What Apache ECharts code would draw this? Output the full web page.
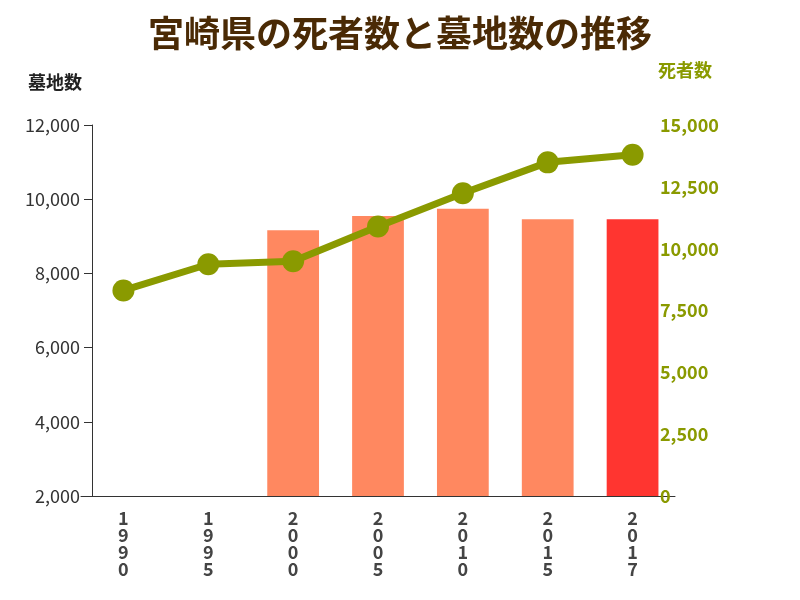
<!DOCTYPE html>
<html><head><meta charset="utf-8">
<script src="https://cdn.jsdelivr.net/npm/echarts@6/dist/echarts.min.js"></script>
<style>body{margin:0}#c{width:800px;height:600px}</style></head>
<body><div id="c"></div>
<script>
var years = ['1990','1995','2000','2005','2010','2015','2017'];
var graves = [null,null,9160,9550,9740,9460,9460];
var deaths = [8310,9370,9490,10900,12240,13490,13800];
var barColors = ['#ff8860','#ff8860','#ff8860','#ff8860','#ff8860','#ff8860','#ff3530'];

var font = '"Noto Sans CJK JP", sans-serif';
var chart = echarts.init(document.getElementById('c'));
chart.setOption({
  animation:false,
  textStyle:{fontFamily:font},
  title:{text:'宮崎県の死者数と墓地数の推移',left:'center',top:10,
    textStyle:{fontSize:36,fontWeight:'bold',color:'#4a2a05',fontFamily:font}},
  grid:{left:81,right:125,top:125,bottom:104},
  xAxis:{type:'category',data:years,
    axisLine:{lineStyle:{color:'#333'}},axisTick:{show:false},
    axisLabel:{fontSize:18,fontWeight:'bold',color:'#444',lineHeight:17,margin:14,
      formatter:function(v){return v.split('').join('\n');}}},
  yAxis:[
    {type:'value',min:2000,max:12000,interval:2000,name:'墓地数',offset:-11,
     nameLocation:'end',nameGap:34,nameTextStyle:{fontSize:18,fontWeight:'bold',color:'#222',align:'right',padding:[0,10,0,0]},
     axisLine:{show:true,lineStyle:{color:'#333'}},axisTick:{show:true,length:8,lineStyle:{color:'#333'}},
     splitLine:{show:false},
     axisLabel:{fontSize:18,color:'#333',margin:12,formatter:function(v){return v.toLocaleString('en-US');}}},
    {type:'value',min:0,max:15000,interval:2500,name:'死者数',offset:-27,
     nameLocation:'end',nameGap:46,nameTextStyle:{fontSize:18,fontWeight:'bold',color:'#8a9a00',align:'left',padding:[0,0,0,10]},
     axisLine:{show:false},axisTick:{show:false},splitLine:{show:false},
     axisLabel:{fontSize:18,fontWeight:'bold',color:'#8a9a00',margin:12,formatter:function(v){return v.toLocaleString('en-US');}}}
  ],
  series:[
    {type:'bar',yAxisIndex:0,barWidth:'61%',
     data:graves.map(function(v,i){return {value:v,itemStyle:{color:barColors[i]}};})},
    {type:'line',yAxisIndex:1,data:deaths,symbol:'circle',symbolSize:22,
     lineStyle:{width:7,color:'#8a9a00'},itemStyle:{color:'#8a9a00'}}
  ]
});
</script></body></html>
